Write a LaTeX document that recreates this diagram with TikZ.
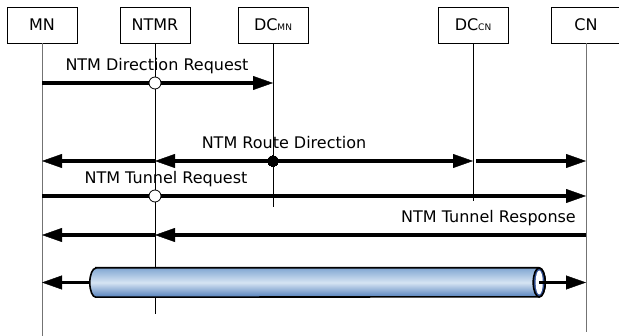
\documentclass[tikz,border=0pt]{standalone}
\usepackage{fontspec}
\setmainfont{DejaVu Sans}
\usepackage{tikz}
\usetikzlibrary{arrows.meta}
\definecolor{tubetop}{RGB}{128,166,210}
\definecolor{tubemid}{RGB}{214,228,243}
\definecolor{tubebot}{RGB}{84,128,188}
\definecolor{tubering}{RGB}{52,82,150}
\tikzstyle{ent} = [rectangle, draw, line width=0.8pt, minimum width=70pt, minimum height=36pt, inner sep=0pt, text depth=1pt, font=\fontsize{16}{19}\selectfont]
\tikzstyle{life} = [draw, line width=0.8pt]
\tikzstyle{msg} = [draw, line width=3.4pt, -{Triangle[length=20pt, width=14pt, line width=0.4pt]}]
\tikzstyle{lbl} = [inner sep=0pt, text height=12pt, text depth=4pt, font=\fontsize{16}{19}\selectfont]
\tikzstyle{hop} = [circle, draw, fill=white, line width=0.8pt, minimum size=12pt, inner sep=0pt]
\tikzstyle{blob} = [circle, draw, fill=black, line width=0pt, minimum size=11pt, inner sep=0pt]
\newcommand{\sub}[1]{{\fontsize{9}{9}\selectfont\raisebox{-0.5pt}{#1}}}

\begin{document}
\begin{tikzpicture}[x=1pt, y=-1pt]
	\useasboundingbox (0,0) rectangle (619,336);
	% entities
	\node [ent] (mn) at (42,25) {MN};
	\node [ent, right of=mn, node distance=113pt] (ntmr) {NTMR};
	\node [ent, right of=ntmr, node distance=118pt] (dcmn) {DC\sub{MN}};
	\node [ent, right of=dcmn, node distance=200pt] (dccn) {DC\sub{CN}};
	\node [ent, right of=dccn, node distance=113pt] (cn) {CN};

	% lifelines
	\draw [life, black!55] (mn.south) -- ++(0,293);
	\draw [life] (ntmr.south) -- ++(0,271);
	\draw [life] (dcmn.south) -- ++(0,164);
	\draw [life] (dccn.south) -- ++(0,158);
	\draw [life, black!55] (cn.south) -- ++(0,289);

	\coordinate (r1) at (0,83);
	\coordinate (r2) at (0,161);
	\coordinate (r3) at (0,196);
	\coordinate (r4) at (0,235);

	% direction request
	\draw [msg] (mn |- r1) -- (dcmn |- r1);
	\node [hop] (h1) at (ntmr |- r1) {};
	\node [lbl, anchor=south] (l1) at (157,75) {NTM Direction Request};

	% route direction
	\coordinate (d2) at (dcmn |- r2);
	\draw [msg] (d2) -- (ntmr |- r2);
	\draw [msg] (ntmr |- r2) -- (mn |- r2);
	\draw [msg] (d2) -- (dccn |- r2);
	\draw [msg, shorten <=3pt] (dccn |- r2) -- (cn |- r2);
	\node [blob] (b2) at (d2) {};
	\node [lbl, anchor=south] (l2) at (284,153) {NTM Route Direction};

	% tunnel request
	\draw [msg] (mn |- r3) -- (cn |- r3);
	\node [hop] (h3) at (ntmr |- r3) {};
	\node [lbl, anchor=south] (l3) at (166,188) {NTM Tunnel Request};

	% tunnel response
	\draw [msg] (cn |- r4) -- (ntmr |- r4);
	\draw [msg] (ntmr |- r4) -- (mn |- r4);
	\node [lbl, anchor=south east] (l4) at (576,227) {NTM Tunnel Response};

	% tunnel
	\node [inner sep=0pt, minimum width=455pt, minimum height=29pt] (tun) at (317.5,282.5) {};
	\coordinate (tun-end) at ([xshift=-6pt]tun.east);
	\shadedraw [top color=tubetop, bottom color=tubebot, middle color=tubemid, line width=1.6pt]
		([xshift=6pt]tun.north west) -- ([xshift=-6pt]tun.north east)
		arc [start angle=90, end angle=-90, x radius=6pt, y radius=14.5pt]
		-- ([xshift=6pt]tun.south west)
		arc [start angle=270, end angle=90, x radius=6pt, y radius=14.5pt] -- cycle;
	\draw [line width=1.6pt, fill=tubering] (tun-end) ellipse [x radius=6pt, y radius=14.5pt];
	\fill [white] (tun-end) ellipse [x radius=3.6pt, y radius=12pt];
	\draw [msg] (tun.west) -- (mn |- tun);
	\draw [msg] (tun-end) -- (cn |- tun);
\end{tikzpicture}
\end{document}
